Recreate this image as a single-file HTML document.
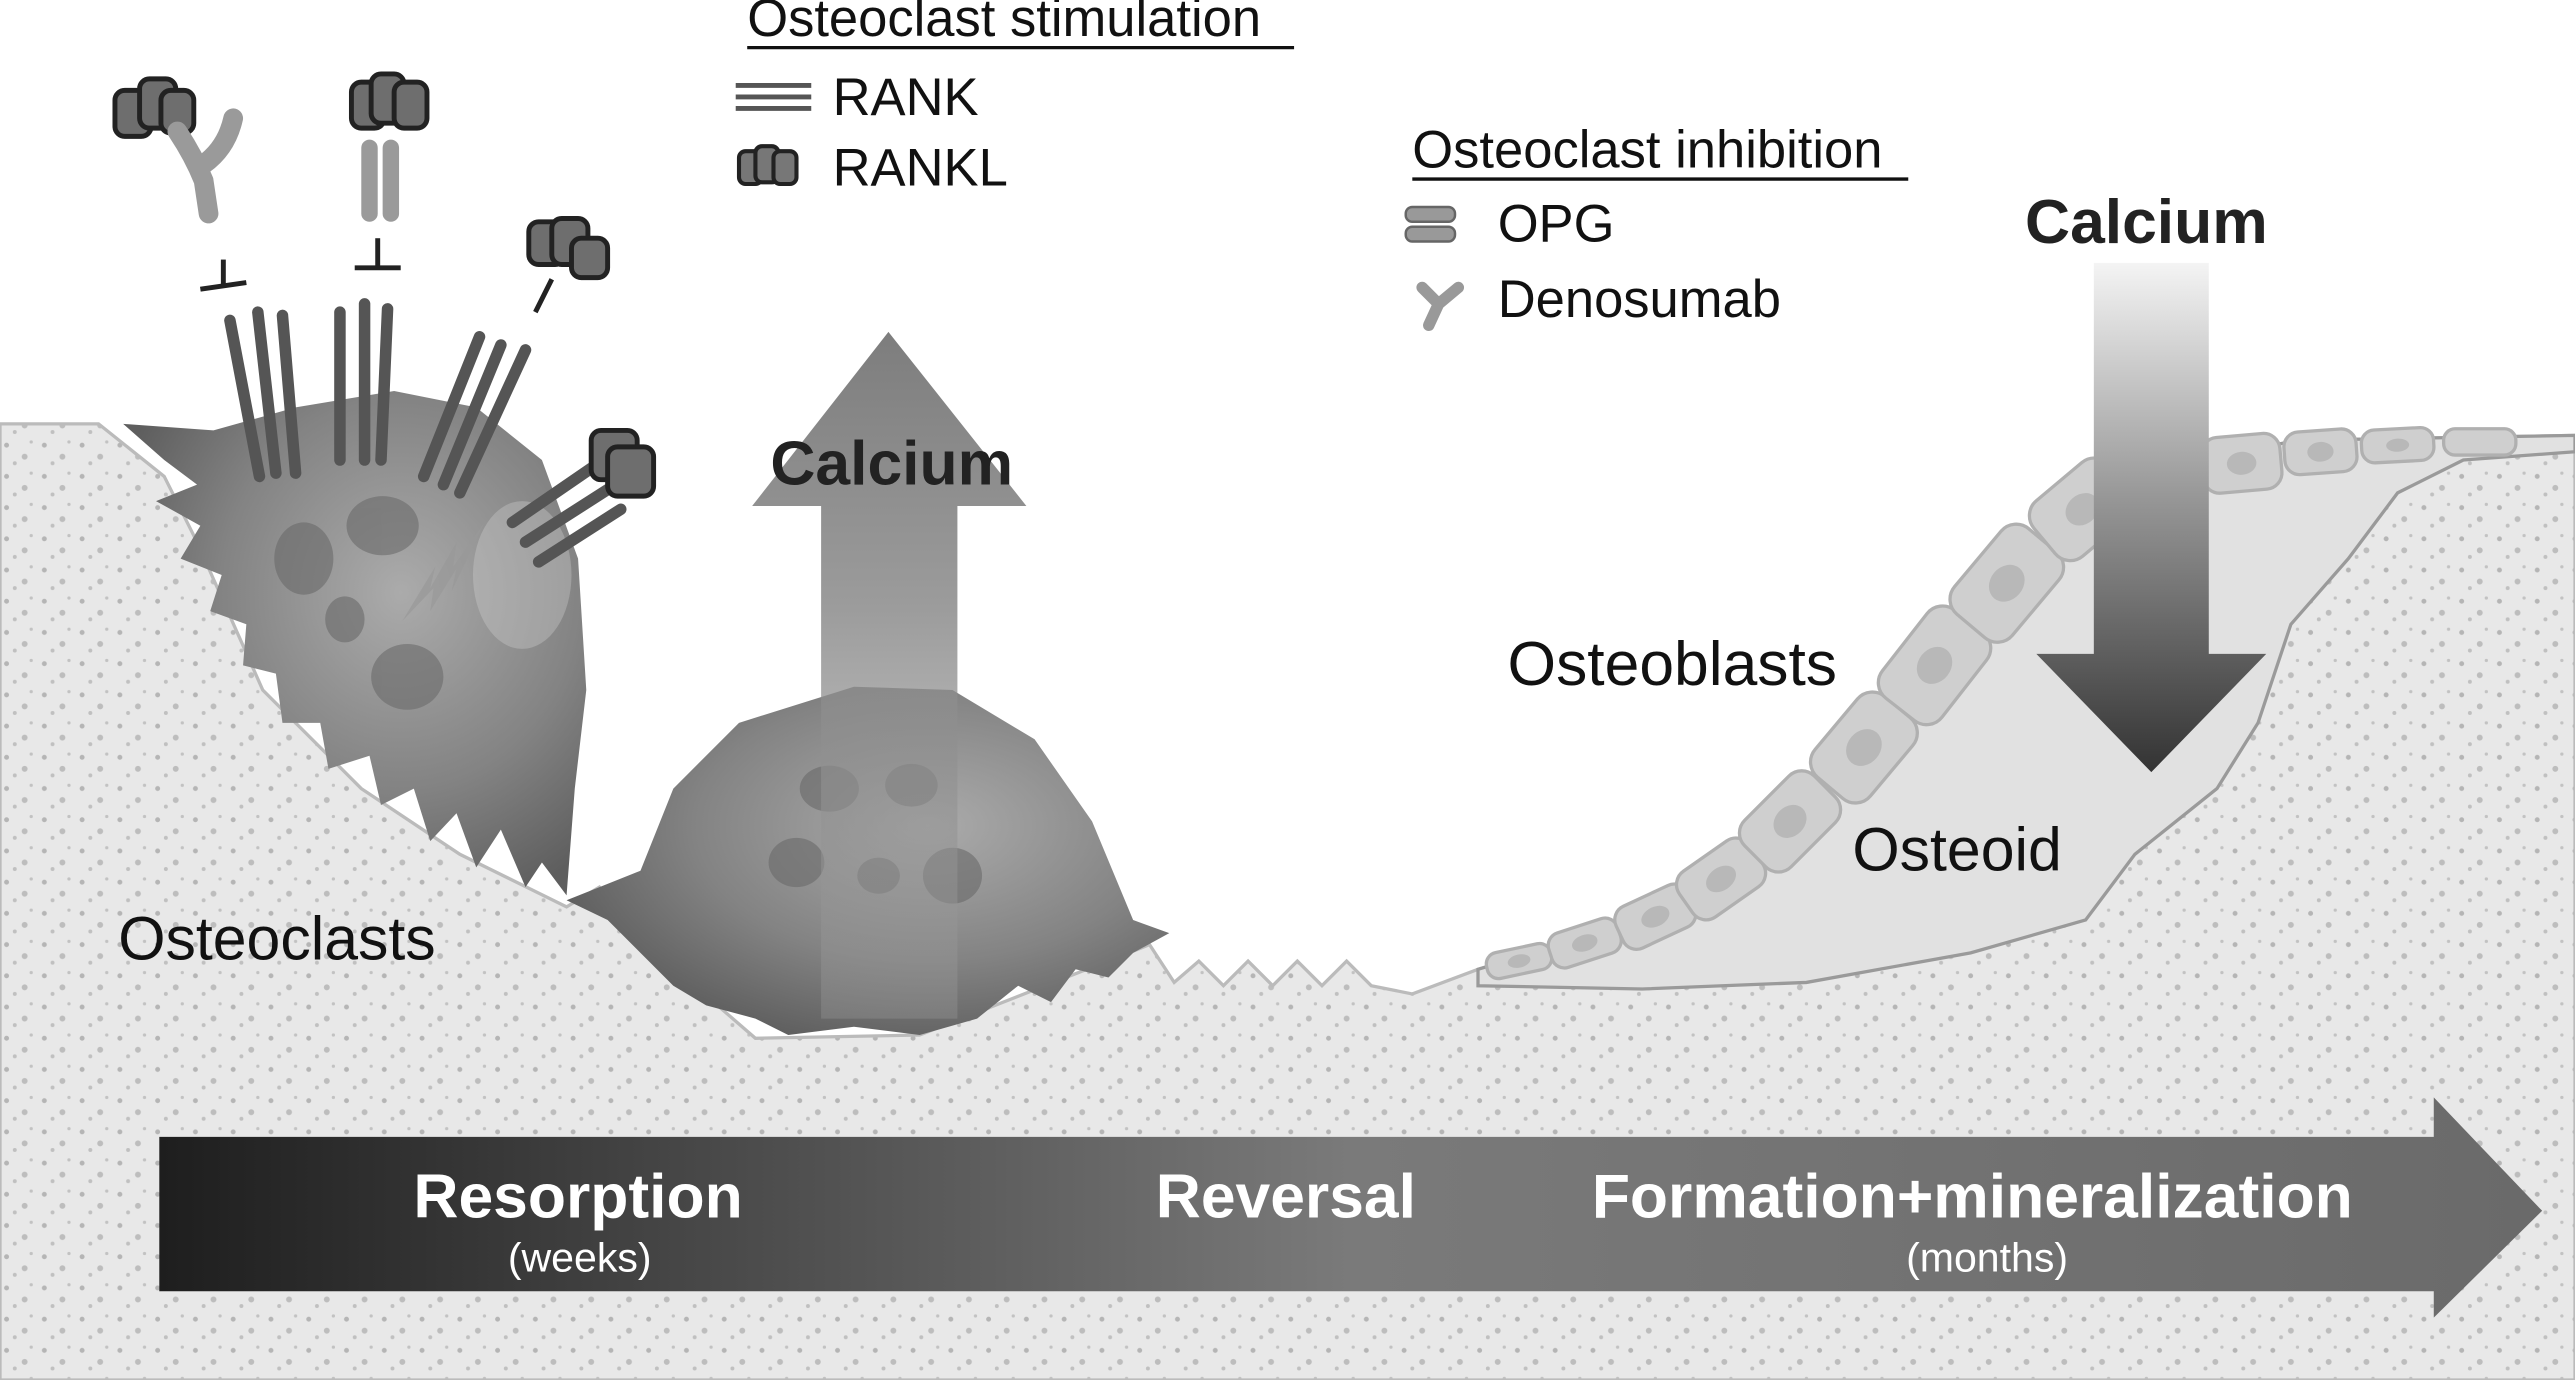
<!DOCTYPE html>
<html><head><meta charset="utf-8"><style>
html,body{margin:0;padding:0;background:#fff;width:2575px;height:1380px;overflow:hidden}
svg{display:block}
text{font-family:"Liberation Sans",sans-serif}
</style></head><body>
<svg width="2575" height="1380" viewBox="0 0 1568 840" preserveAspectRatio="none" xmlns="http://www.w3.org/2000/svg">
<defs>
<pattern id="dots" width="23" height="19" patternUnits="userSpaceOnUse">
<rect width="23" height="19" fill="#e8e8e8"/>
<circle cx="4" cy="5" r="1.5" fill="#b5b5b5"/><circle cx="15" cy="12" r="1.8" fill="#bdbdbd"/><circle cx="19" cy="3" r="1" fill="#c2c2c2"/><circle cx="9" cy="16" r="1.2" fill="#c0c0c0"/>
</pattern>
<radialGradient id="cell" cx="0.6" cy="0.4" r="0.65"><stop offset="0" stop-color="#ababab"/><stop offset="0.6" stop-color="#838383"/><stop offset="1" stop-color="#5e5e5e"/></radialGradient>
<linearGradient id="bar" x1="0" x2="1"><stop offset="0" stop-color="#1e1e1e"/><stop offset="0.5" stop-color="#7a7a7a"/><stop offset="1" stop-color="#6a6a6a"/></linearGradient>
<linearGradient id="up" x1="0" y1="1" x2="0" y2="0"><stop offset="0" stop-color="#9a9a9a" stop-opacity="0.4"/><stop offset="0.6" stop-color="#8a8a8a"/><stop offset="1" stop-color="#666"/></linearGradient>
<linearGradient id="down" x1="0" y1="0" x2="0" y2="1"><stop offset="0" stop-color="#f4f4f4"/><stop offset="0.45" stop-color="#999"/><stop offset="1" stop-color="#333"/></linearGradient>
</defs>
<!-- bone -->
<path d="M0,258 L60,258 L100,290 L120,330 L160,420 L220,480 L280,520 L345,552 L365,540 L400,580 L460,632 L560,630 L700,575 L715,598 L730,585 L745,600 L760,585 L775,600 L790,585 L805,600 L820,585 L835,600 L860,605 L900,590 L1000,560 L1100,480 L1200,360 L1280,290 L1400,268 L1568,265 L1568,840 L0,840 Z" fill="url(#dots)" stroke="#bbb" stroke-width="2"/>
<!-- osteoid -->
<path d="M900,590 L1000,560 L1100,480 L1200,360 L1280,290 L1400,268 L1568,265 L1568,275 L1500,280 L1460,300 L1430,340 L1395,380 L1375,440 L1350,480 L1300,520 L1270,560 L1200,580 L1100,598 L1000,602 L900,600 Z" fill="#e1e1e1" stroke="#9a9a9a" stroke-width="2"/>
<!-- osteoblasts -->
<g fill="#cfcfcf" stroke="#b0b0b0" stroke-width="2">
<g transform="translate(925,585) rotate(-12)"><rect x="-20" y="-8" width="40" height="16" rx="7"/><ellipse rx="7" ry="4" fill="#b8b8b8" stroke="none"/></g>
<g transform="translate(965,574) rotate(-18)"><rect x="-22" y="-11" width="44" height="22" rx="8"/><ellipse rx="8" ry="5" fill="#b8b8b8" stroke="none"/></g>
<g transform="translate(1008,558) rotate(-25)"><rect x="-24" y="-14" width="48" height="28" rx="9"/><ellipse rx="9" ry="6" fill="#b8b8b8" stroke="none"/></g>
<g transform="translate(1048,535) rotate(-35)"><rect x="-26" y="-17" width="52" height="34" rx="10"/><ellipse rx="10" ry="7" fill="#b8b8b8" stroke="none"/></g>
<g transform="translate(1090,500) rotate(-45)"><rect x="-30" y="-20" width="60" height="40" rx="11"/><ellipse rx="11" ry="9" fill="#b8b8b8" stroke="none"/></g>
<g transform="translate(1135,455) rotate(-50)"><rect x="-32" y="-22" width="64" height="44" rx="12"/><ellipse rx="12" ry="10" fill="#b8b8b8" stroke="none"/></g>
<g transform="translate(1178,405) rotate(-52)"><rect x="-34" y="-23" width="68" height="46" rx="12"/><ellipse rx="12" ry="10" fill="#b8b8b8" stroke="none"/></g>
<g transform="translate(1222,355) rotate(-50)"><rect x="-34" y="-23" width="68" height="46" rx="12"/><ellipse rx="12" ry="10" fill="#b8b8b8" stroke="none"/></g>
<g transform="translate(1268,310) rotate(-40)"><rect x="-30" y="-22" width="60" height="44" rx="12"/><ellipse rx="11" ry="9" fill="#b8b8b8" stroke="none"/></g>
<g transform="translate(1315,288) rotate(-10)"><rect x="-24" y="-20" width="48" height="40" rx="10"/><ellipse rx="10" ry="8" fill="#b8b8b8" stroke="none"/></g>
<g transform="translate(1365,282) rotate(-5)"><rect x="-24" y="-17" width="48" height="34" rx="10"/><ellipse rx="9" ry="7" fill="#b8b8b8" stroke="none"/></g>
<g transform="translate(1413,275) rotate(-4)"><rect x="-22" y="-13" width="44" height="26" rx="9"/><ellipse rx="8" ry="6" fill="#b8b8b8" stroke="none"/></g>
<g transform="translate(1460,271) rotate(-3)"><rect x="-22" y="-10" width="44" height="20" rx="8"/><ellipse rx="7" ry="4" fill="#b8b8b8" stroke="none"/></g>
<g transform="translate(1510,269)"><rect x="-22" y="-8" width="44" height="16" rx="7"/></g>
</g>
<!-- osteoclast 1 -->
<path d="M100,280 L75,258 L130,262 L180,248 L240,238 L290,248 L330,280 L352,340 L357,420 L350,480 L345,545 L330,525 L320,540 L305,505 L290,528 L278,495 L262,512 L252,480 L232,490 L225,460 L200,468 L195,440 L172,440 L168,410 L148,405 L150,380 L128,372 L135,350 L110,340 L122,320 L95,305 L120,295 Z" fill="url(#cell)"/>
<ellipse cx="318" cy="350" rx="30" ry="45" fill="#d0d0d0" opacity="0.35"/>
<g fill="#6a6a6a" opacity="0.6"><ellipse cx="233" cy="320" rx="22" ry="18"/><ellipse cx="185" cy="340" rx="18" ry="22"/><ellipse cx="210" cy="377" rx="12" ry="14"/><ellipse cx="248" cy="412" rx="22" ry="20"/></g>
<path d="M245,378 L265,345 L262,358 L278,330 L276,345 L295,318 L275,360 L278,346 L262,372 L264,358 Z" fill="#999" opacity="0.7"/>
<!-- receptors -->
<g stroke="#555" stroke-width="7" stroke-linecap="round">
<line x1="140" y1="195" x2="158" y2="290"/><line x1="157" y1="190" x2="168" y2="288"/><line x1="172" y1="192" x2="180" y2="288"/>
<line x1="207" y1="190" x2="207" y2="280"/><line x1="222" y1="185" x2="222" y2="280"/><line x1="236" y1="188" x2="232" y2="280"/>
<line x1="292" y1="205" x2="258" y2="290"/><line x1="305" y1="210" x2="270" y2="295"/><line x1="320" y1="213" x2="280" y2="300"/>
<line x1="360" y1="285" x2="312" y2="318"/><line x1="370" y1="298" x2="320" y2="330"/><line x1="378" y1="310" x2="328" y2="342"/>
</g>
<g stroke="#222" stroke-width="3"><line x1="136" y1="158" x2="136" y2="175"/><line x1="122" y1="176" x2="150" y2="172"/><line x1="230" y1="145" x2="230" y2="163"/><line x1="216" y1="163" x2="244" y2="163"/><line x1="336" y1="170" x2="326" y2="190"/></g>
<!-- RANKL blobs -->
<g fill="#6e6e6e" stroke="#222" stroke-width="3">
<rect x="70" y="55" width="22" height="28" rx="6"/><rect x="85" y="48" width="22" height="30" rx="6"/><rect x="98" y="55" width="20" height="26" rx="6"/>
<rect x="214" y="50" width="20" height="28" rx="6"/><rect x="226" y="45" width="20" height="30" rx="6"/><rect x="240" y="50" width="20" height="28" rx="6"/>
<rect x="322" y="135" width="22" height="26" rx="6"/><rect x="336" y="133" width="22" height="28" rx="6"/><rect x="348" y="145" width="22" height="24" rx="6"/>
<rect x="360" y="262" width="28" height="30" rx="6"/><rect x="370" y="272" width="28" height="30" rx="6"/>
</g>
<path d="M108,80 Q118,95 124,110 L127,130 M124,100 Q138,90 142,72" stroke="#9a9a9a" stroke-width="12" fill="none" stroke-linecap="round"/>
<g fill="#9a9a9a"><rect x="220" y="85" width="10" height="50" rx="5"/><rect x="233" y="85" width="10" height="50" rx="5"/></g>
<!-- osteoclast 2 -->
<path d="M345,548 L390,530 L410,480 L450,440 L520,418 L580,420 L630,450 L665,500 L690,560 L712,568 L690,580 L675,595 L655,590 L640,610 L620,600 L595,620 L560,630 L520,625 L480,630 L460,620 L430,612 L410,600 L390,580 L370,560 Z" fill="url(#cell)"/>
<g fill="#6a6a6a" opacity="0.6"><ellipse cx="505" cy="480" rx="18" ry="14"/><ellipse cx="555" cy="478" rx="16" ry="13"/><ellipse cx="485" cy="525" rx="17" ry="15"/><ellipse cx="535" cy="533" rx="13" ry="11"/><ellipse cx="580" cy="533" rx="18" ry="17"/></g>
<!-- up calcium arrow -->
<path d="M500,620 L500,308 L458,308 L541,202 L625,308 L583,308 L583,620 Z" fill="url(#up)" opacity="0.85"/>
<text x="543" y="295" font-size="38" font-weight="bold" text-anchor="middle" fill="#222">Calcium</text>
<!-- down arrow -->
<path d="M1275,160 L1345,160 L1345,398 L1380,398 L1310,470 L1240,398 L1275,398 Z" fill="url(#down)"/>
<text x="1307" y="148" font-size="38" font-weight="bold" text-anchor="middle" fill="#222">Calcium</text>
<!-- bar -->
<path d="M97,692 L1482,692 L1482,668 L1548,737 L1482,802 L1482,786 L97,786 Z" fill="url(#bar)"/>
<g fill="#fff" font-weight="bold" text-anchor="middle">
<text x="352" y="741" font-size="38">Resorption</text><text x="353" y="774" font-size="25" font-weight="normal">(weeks)</text>
<text x="783" y="741" font-size="38">Reversal</text>
<text x="1201" y="741" font-size="38">Formation+mineralization</text><text x="1210" y="774" font-size="25" font-weight="normal">(months)</text>
</g>
<!-- labels -->
<g fill="#111">
<text x="72" y="584" font-size="37">Osteoclasts</text>
<text x="918" y="417" font-size="38">Osteoblasts</text>
<text x="1128" y="530" font-size="37">Osteoid</text>
<text x="455" y="22" font-size="32">Osteoclast stimulation</text>
<line x1="455" y1="29" x2="788" y2="29" stroke="#111" stroke-width="2"/>
<text x="507" y="70" font-size="32">RANK</text>
<text x="507" y="113" font-size="32">RANKL</text>
<text x="860" y="102" font-size="32">Osteoclast inhibition</text>
<line x1="860" y1="109" x2="1162" y2="109" stroke="#111" stroke-width="2"/>
<text x="912" y="147" font-size="32">OPG</text>
<text x="912" y="193" font-size="32">Denosumab</text>
</g>
<g stroke="#555" stroke-width="3"><line x1="448" y1="52" x2="494" y2="52"/><line x1="448" y1="59" x2="494" y2="59"/><line x1="448" y1="66" x2="494" y2="66"/></g>
<g fill="#777" stroke="#222" stroke-width="2.5"><rect x="450" y="92" width="14" height="20" rx="4"/><rect x="460" y="89" width="14" height="22" rx="4"/><rect x="471" y="92" width="14" height="20" rx="4"/></g>
<g fill="#999" stroke="#666" stroke-width="1.5"><rect x="856" y="126" width="30" height="9" rx="4"/><rect x="856" y="138" width="30" height="9" rx="4"/></g>
<path d="M866,175 L876,185 L888,175 M876,185 L870,198" stroke="#999" stroke-width="7" fill="none" stroke-linecap="round"/>
</svg>
</body></html>
